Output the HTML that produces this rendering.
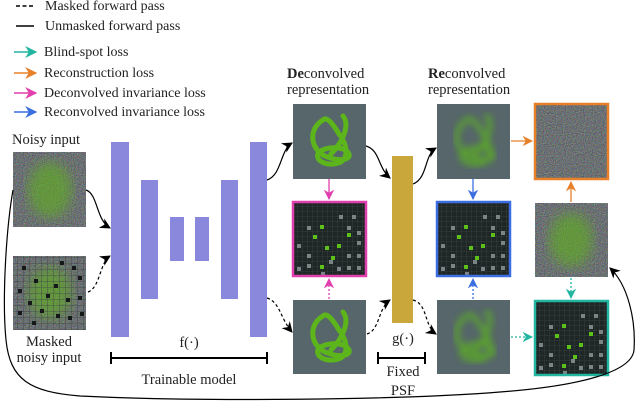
<!DOCTYPE html>
<html><head><meta charset="utf-8"><style>
html,body{margin:0;padding:0;background:#fff}
svg{display:block;font-family:"Liberation Serif",serif}
</style></head><body>
<svg width="640" height="408" viewBox="0 0 640 408" xmlns="http://www.w3.org/2000/svg">
<defs>
<filter id="nz" x="0" y="0" width="100%" height="100%" color-interpolation-filters="sRGB">
<feTurbulence type="fractalNoise" baseFrequency="0.9" numOctaves="1" seed="3" result="t"/>
<feColorMatrix in="t" type="matrix" values="0.6 0 0 0 0.12  0 0.6 0 0 0.14  0 0 0.6 0 0.15  0 0 0 0 1"/>
</filter>
<filter id="bl"><feGaussianBlur stdDeviation="3.5"/></filter>
<filter id="bl2"><feGaussianBlur stdDeviation="6"/></filter>
<pattern id="grid" width="5" height="5" patternUnits="userSpaceOnUse"><path d="M5 0V5H0" fill="none" stroke="#3a4444" stroke-width="0.8"/></pattern>
<pattern id="grid2" width="6" height="6" patternUnits="userSpaceOnUse"><path d="M6 0V6H0" fill="none" stroke="#3c4444" stroke-width="0.8"/></pattern>
<marker id="ak" viewBox="0 0 10 10" refX="9" refY="5" markerWidth="9" markerHeight="9" orient="auto-start-reverse"><path d="M0 0L10 5L0 10L3 5z" fill="#000"/></marker>
<marker id="ap" viewBox="0 0 10 10" refX="9" refY="5" markerWidth="8" markerHeight="8" orient="auto"><path d="M0 0L10 5L0 10L3 5z" fill="#e23fae"/></marker>
<marker id="ab" viewBox="0 0 10 10" refX="9" refY="5" markerWidth="8" markerHeight="8" orient="auto"><path d="M0 0L10 5L0 10L3 5z" fill="#3b6ee0"/></marker>
<marker id="ao" viewBox="0 0 10 10" refX="9" refY="5" markerWidth="8" markerHeight="8" orient="auto"><path d="M0 0L10 5L0 10L3 5z" fill="#e8802a"/></marker>
<marker id="at" viewBox="0 0 10 10" refX="9" refY="5" markerWidth="8" markerHeight="8" orient="auto"><path d="M0 0L10 5L0 10L3 5z" fill="#22b5a0"/></marker>
<g id="sq">
<rect x="0" y="0" width="74" height="74" fill="#1f2626"/>
<rect x="0" y="0" width="74" height="74" fill="url(#grid)"/>
<g fill="#7b8585">
<rect x="46" y="13" width="4" height="4"/><rect x="59" y="13" width="4" height="4"/><rect x="14" y="24" width="4" height="4"/><rect x="54" y="24" width="4" height="4"/><rect x="64" y="29" width="4" height="4"/><rect x="64" y="39" width="4" height="4"/><rect x="4" y="42" width="4" height="4"/><rect x="14" y="52" width="4" height="4"/><rect x="54" y="52" width="4" height="4"/><rect x="64" y="52" width="4" height="4"/><rect x="14" y="62" width="4" height="4"/><rect x="4" y="65" width="4" height="4"/><rect x="44" y="65" width="4" height="4"/><rect x="54" y="64" width="4" height="4"/><rect x="28" y="70" width="4" height="4"/><rect x="64" y="64" width="4" height="4"/><rect x="36" y="58" width="4" height="4"/>
</g>
<g fill="#5cc21a">
<rect x="27" y="23" width="4" height="4"/><rect x="54" y="31" width="4" height="4"/><rect x="20" y="33" width="4" height="4"/><rect x="44" y="42" width="4" height="4"/><rect x="32" y="44" width="4" height="4"/><rect x="38" y="54" width="4" height="4"/><rect x="27" y="63" width="4" height="4"/>
</g>
</g>
<path id="knot" d="M30 16 C16 24,16 44,32 52 C46 58,58 56,56 50 C52 42,34 42,26 48 C20 56,34 64,48 58 C56 52,54 40,46 30 C40 20,34 12,30 16 M50 12 C58 22,48 40,38 50" fill="none" stroke="#5cb51a" stroke-width="5" stroke-linecap="round"/>
</defs>

<!-- legend -->
<g font-size="14" fill="#222">
<path d="M16 6H34" stroke="#000" stroke-width="1.5" stroke-dasharray="4 2.5"/><text x="45" y="10">Masked forward pass</text>
<path d="M16 26H34" stroke="#000" stroke-width="1.5"/><text x="45" y="30">Unmasked forward pass</text>
<path d="M14 52H36" stroke="#22b5a0" stroke-width="1.5" marker-end="url(#at)"/><text x="44" y="56">Blind-spot loss</text>
<path d="M14 73H36" stroke="#e8802a" stroke-width="1.5" marker-end="url(#ao)"/><text x="44" y="77">Reconstruction loss</text>
<path d="M14 93H36" stroke="#e23fae" stroke-width="1.5" marker-end="url(#ap)"/><text x="44" y="97">Deconvolved invariance loss</text>
<path d="M14 112H36" stroke="#3b6ee0" stroke-width="1.5" marker-end="url(#ab)"/><text x="44" y="116">Reconvolved invariance loss</text>
</g>

<!-- inputs -->
<text x="12" y="144" font-size="14.5" fill="#222">Noisy input</text>
<rect x="13" y="152" width="73" height="75" fill="#5e6664" filter="url(#nz)"/>
<ellipse cx="50" cy="190" rx="22" ry="28" fill="#5fb01a" opacity="0.6" filter="url(#bl2)"/>
<rect x="13" y="256" width="73" height="74" fill="#5e6664" filter="url(#nz)"/>
<ellipse cx="50" cy="293" rx="22" ry="26" fill="#5fb01a" opacity="0.6" filter="url(#bl2)"/>
<rect x="13" y="256" width="73" height="74" fill="url(#grid2)"/>
<g fill="#141818">
<rect x="22" y="266" width="4" height="4"/><rect x="60" y="261" width="4" height="4"/><rect x="72" y="266" width="4" height="4"/><rect x="34" y="279" width="4" height="4"/><rect x="54" y="284" width="4" height="4"/><rect x="78" y="276" width="4" height="4"/><rect x="18" y="289" width="4" height="4"/><rect x="46" y="294" width="4" height="4"/><rect x="66" y="298" width="4" height="4"/><rect x="28" y="301" width="4" height="4"/><rect x="78" y="296" width="4" height="4"/><rect x="18" y="311" width="4" height="4"/><rect x="40" y="309" width="4" height="4"/><rect x="56" y="314" width="4" height="4"/><rect x="32" y="321" width="4" height="4"/><rect x="68" y="316" width="4" height="4"/><rect x="80" y="312" width="4" height="4"/>
</g>
<text x="49" y="346" font-size="14.5" fill="#222" text-anchor="middle">Masked</text>
<text x="49" y="362" font-size="14.5" fill="#222" text-anchor="middle">noisy input</text>

<!-- model -->
<g fill="#8a88dc">
<rect x="111" y="142" width="18" height="195"/><rect x="141" y="180" width="17" height="119"/><rect x="170" y="217" width="14" height="44"/><rect x="195" y="217" width="14" height="44"/><rect x="221" y="180" width="17" height="119"/><rect x="250" y="142" width="17" height="195"/>
</g>
<text x="189" y="347" font-size="14.5" fill="#222" text-anchor="middle">f(·)</text>
<path d="M111 352V364M111 358H267M267 352V364" stroke="#000" stroke-width="2" fill="none"/>
<text x="189" y="384" font-size="14.5" fill="#222" text-anchor="middle">Trainable model</text>

<path d="M86 190 C98 194,96 220,110 228" fill="none" stroke="#000" stroke-width="1.2" marker-end="url(#ak)"/>
<path d="M88 292 C100 288,100 262,110 256" fill="none" stroke="#000" stroke-width="1.2" stroke-dasharray="3 2.5" marker-end="url(#ak)"/>
<path d="M267 180 C282 175,280 150,292 143" fill="none" stroke="#000" stroke-width="1.2" marker-end="url(#ak)"/>
<path d="M267 298 C280 302,280 318,292 332" fill="none" stroke="#000" stroke-width="1.2" stroke-dasharray="3 2.5" marker-end="url(#ak)"/>

<!-- deconvolved -->
<text x="287" y="78" font-size="14.5" fill="#222"><tspan font-weight="bold">De</tspan>convolved</text>
<text x="287" y="94" font-size="14.5" fill="#222">representation</text>
<rect x="293" y="104" width="73" height="75" fill="#56666a"/>
<use href="#knot" x="293" y="104"/>
<rect x="293" y="300" width="73" height="74" fill="#56666a"/>
<use href="#knot" x="293" y="300"/>
<use href="#sq" x="293" y="202"/>
<rect x="293" y="202" width="73" height="74" fill="none" stroke="#e23fae" stroke-width="2.5"/>
<path d="M329 179V199" stroke="#e23fae" stroke-width="1.3" marker-end="url(#ap)"/>
<path d="M329 299V279" stroke="#e23fae" stroke-width="1.3" stroke-dasharray="2 2" marker-end="url(#ap)"/>

<!-- psf -->
<rect x="392" y="156" width="21" height="167" fill="#c9a73a"/>
<text x="403" y="343" font-size="14.5" fill="#222" text-anchor="middle">g(·)</text>
<path d="M378 352V364M378 358H425M425 352V364" stroke="#000" stroke-width="2" fill="none"/>
<text x="403" y="376" font-size="14.5" fill="#222" text-anchor="middle">Fixed</text>
<text x="403" y="395" font-size="14.5" fill="#222" text-anchor="middle">PSF</text>
<path d="M366 146 C380 150,378 168,390 178" fill="none" stroke="#000" stroke-width="1.2" marker-end="url(#ak)"/>
<path d="M367 334 C380 330,378 308,390 300" fill="none" stroke="#000" stroke-width="1.2" stroke-dasharray="3 2.5" marker-end="url(#ak)"/>
<path d="M413 184 C428 178,424 155,436 148" fill="none" stroke="#000" stroke-width="1.2" marker-end="url(#ak)"/>
<path d="M413 300 C428 304,424 326,436 334" fill="none" stroke="#000" stroke-width="1.2" stroke-dasharray="3 2.5" marker-end="url(#ak)"/>

<!-- reconvolved -->
<text x="428" y="78" font-size="14.5" fill="#222"><tspan font-weight="bold">Re</tspan>convolved</text>
<text x="428" y="94" font-size="14.5" fill="#222">representation</text>
<rect x="437" y="104" width="73" height="75" fill="#56666a"/>
<use href="#knot" x="437" y="104" filter="url(#bl)" opacity="0.75"/>
<rect x="437" y="300" width="73" height="74" fill="#56666a"/>
<use href="#knot" x="437" y="300" filter="url(#bl)" opacity="0.75"/>
<use href="#sq" x="437" y="202"/>
<rect x="437" y="202" width="73" height="74" fill="none" stroke="#3b6ee0" stroke-width="2.5"/>
<path d="M473 179V199" stroke="#3b6ee0" stroke-width="1.3" marker-end="url(#ab)"/>
<path d="M473 299V279" stroke="#3b6ee0" stroke-width="1.3" stroke-dasharray="2 2" marker-end="url(#ab)"/>

<!-- right column -->
<rect x="535" y="104" width="73" height="75" fill="#5e6664" filter="url(#nz)"/>
<rect x="535" y="104" width="73" height="75" fill="none" stroke="#e8802a" stroke-width="2.5"/>
<path d="M511 141H532" stroke="#e8802a" stroke-width="1.3" marker-end="url(#ao)"/>
<rect x="535" y="203" width="73" height="74" fill="#5e6664" filter="url(#nz)"/>
<ellipse cx="571" cy="240" rx="22" ry="27" fill="#5fb01a" opacity="0.6" filter="url(#bl2)"/>
<path d="M571 202V182" stroke="#e8802a" stroke-width="1.3" marker-end="url(#ao)"/>
<use href="#sq" x="535" y="301"/>
<rect x="535" y="301" width="73" height="74" fill="none" stroke="#22b5a0" stroke-width="2.5"/>
<path d="M571 278V298" stroke="#22b5a0" stroke-width="1.3" stroke-dasharray="2 2" marker-end="url(#at)"/>
<path d="M511 337H532" stroke="#22b5a0" stroke-width="1.3" stroke-dasharray="2 2" marker-end="url(#at)"/>

<path d="M13 190 C6 230,2 300,6 340 C10 380,30 392,80 396 C200 402,400 400,500 392 C580 386,632 372,634 350 C636 320,628 285,610 268" fill="none" stroke="#000" stroke-width="1.2" marker-end="url(#ak)"/>
</svg>
</body></html>
